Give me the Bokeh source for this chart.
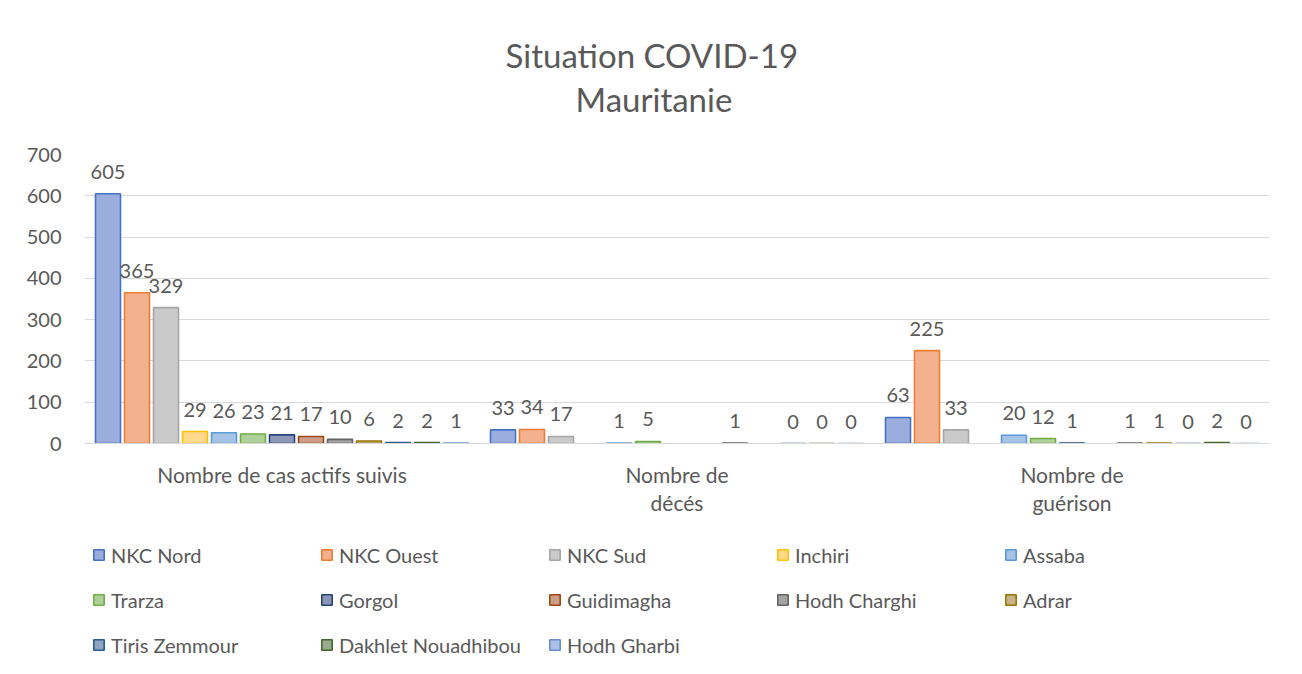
import numpy as np
from bokeh.plotting import figure
from bokeh.layouts import column
from bokeh.models import (ColumnDataSource, FactorRange, Range1d, Legend, LegendItem,
                          Title, SingleIntervalTicker, CategoricalAxis, CustomJSTickFormatter)
from bokeh.transform import dodge
from bokeh.core.properties import value
from bokeh.embed import file_html
from bokeh.resources import INLINE

categories = ["Nombre de cas actifs suivis", "Nombre de décés", "Nombre de guérison"]
category_line1 = ["Nombre de cas actifs suivis", "Nombre de", "Nombre de"]
category_line2 = ["", "décés", "guérison"]

series = ["NKC Nord", "NKC Ouest", "NKC Sud", "Inchiri", "Assaba", "Trarza", "Gorgol",
          "Guidimagha", "Hodh Charghi", "Adrar", "Tiris Zemmour", "Dakhlet Nouadhibou", "Hodh Gharbi"]

nkc_nord = [605, 33, 63]
nkc_ouest = [365, 34, 225]
nkc_sud = [329, 17, 33]
inchiri = [29, None, None]
assaba = [26, 1, 20]
trarza = [23, 5, 12]
gorgol = [21, None, 1]
guidimagha = [17, None, None]
hodh_charghi = [10, 1, 1]
adrar = [6, None, 1]
tiris_zemmour = [2, 0, 0]
dakhlet_nouadhibou = [2, 0, 2]
hodh_gharbi = [1, 0, 0]

values = [nkc_nord, nkc_ouest, nkc_sud, inchiri, assaba, trarza, gorgol, guidimagha,
          hodh_charghi, adrar, tiris_zemmour, dakhlet_nouadhibou, hodh_gharbi]

line_colors = ["#4472C4", "#ED7D31", "#A5A5A5", "#FFC000", "#5B9BD5", "#70AD47", "#264478",
               "#9E480E", "#636363", "#997300", "#255E91", "#43682B", "#698ED0"]
fill_colors = ["#9AADDD", "#F4B18F", "#CACACA", "#FFD98C", "#A5C3E6", "#AFD098", "#8C97B5",
               "#CC9D88", "#A3A3A3", "#C7B28A", "#8EA3BF", "#9AAA8E", "#AEC0E6"]

TXT = "#595959"
FONT = value("Lato")

p = figure(width=1300, height=523, output_backend="svg", toolbar_location=None, title=None,
           x_range=FactorRange(*categories, range_padding=0), y_range=Range1d(0, 700),
           min_border_left=84, min_border_right=31, min_border_top=0, min_border_bottom=80)

p.outline_line_color = None
p.background_fill_color = "white"
p.border_fill_color = "white"

p.xgrid.grid_line_color = None
p.ygrid.grid_line_color = "#D9D9D9"
p.ygrid.grid_line_width = 1
p.yaxis.ticker = SingleIntervalTicker(interval=100)

p.yaxis.axis_line_color = None
p.yaxis.major_tick_line_color = None
p.yaxis.minor_tick_line_color = None
p.yaxis.major_tick_out = 0
p.yaxis.major_label_standoff = 19
p.yaxis.major_label_text_font = "Lato"
p.yaxis.major_label_text_font_size = "20px"
p.yaxis.major_label_text_color = TXT

ax1 = p.xaxis[0]
ax2 = CategoricalAxis()
p.add_layout(ax2, "below")
for ax, lines, so in ((ax1, category_line1, 18), (ax2, category_line2, 0)):
    ax.major_tick_line_color = None
    ax.minor_tick_line_color = None
    ax.major_tick_out = 0
    ax.major_tick_in = 0
    ax.major_label_standoff = so
    ax.major_label_text_font = "Lato"
    ax.major_label_text_font_size = "21px"
    ax.major_label_text_color = TXT
    ax.formatter = CustomJSTickFormatter(args=dict(cats=categories, lines=lines),
                                         code="const i = cats.indexOf(tick); return i >= 0 ? lines[i] : tick;")
ax1.axis_line_color = "#D9D9D9"
ax2.axis_line_color = None

step = 29.0 / 395.0
bw = 25.0 / 395.0

for i, name in enumerate(series):
    vals = values[i]
    off = (i - 6) * step
    src = ColumnDataSource(dict(cat=categories,
                                val=[np.nan if v is None else v for v in vals]))
    p.vbar(x=dodge("cat", off, range=p.x_range), top="val", width=bw, bottom=0,
           source=src, fill_color=fill_colors[i], line_color=line_colors[i], line_width=1.6)
    lcats = [c for c, v in zip(categories, vals) if v is not None]
    lvals = [v for v in vals if v is not None]
    lsrc = ColumnDataSource(dict(cat=lcats, val=lvals, txt=[str(v) for v in lvals]))
    p.text(x=dodge("cat", off, range=p.x_range), y="val", text="txt", source=lsrc,
           text_font=FONT, text_font_size="20px", text_color=TXT,
           text_align="center", text_baseline="alphabetic", y_offset=-22)

title_kw = dict(align="left", text_font="Lato", text_font_size="33px",
                text_font_style="normal", text_color=TXT)
p.add_layout(Title(text=" ", align="left", text_font_size="1px", standoff=31), "above")
p.add_layout(Title(text="Mauritanie", offset=491, standoff=4, **title_kw), "above")
p.add_layout(Title(text="Situation COVID-19", offset=421, standoff=0, **title_kw), "above")
p.add_layout(Title(text=" ", align="left", text_font_size="1px", standoff=29), "above")

# legend strip (separate figure so the legend sits below the category labels)
pl = figure(width=1300, height=149, output_backend="svg", toolbar_location=None, title=None,
            x_axis_type=None, y_axis_type=None, min_border=0,
            x_range=Range1d(0, 1), y_range=Range1d(0, 1))
pl.outline_line_color = None
pl.grid.grid_line_color = None
pl.border_fill_color = "white"

items = []
for i, name in enumerate(series):
    r = pl.vbar(x=[np.nan], top=[np.nan], width=0.1, fill_color=fill_colors[i],
                line_color=line_colors[i], line_width=1.6)
    items.append(LegendItem(label=name, renderers=[r]))

row_bottoms = [105, 60, 15]
for k, yb in zip(range(0, len(items), 5), row_bottoms):
    lg = Legend(items=items[k:k + 5], orientation="horizontal", location=(8, yb),
                border_line_color=None, background_fill_alpha=0,
                label_text_font="Lato", label_text_font_size="20px", label_text_color=TXT,
                glyph_width=13, glyph_height=13, label_standoff=6,
                label_width=184, label_height=25, spacing=25, padding=0, margin=0)
    pl.add_layout(lg, "center")

layout = column(p, pl, spacing=0)
open("out.html", "w").write(file_html(layout, INLINE))
